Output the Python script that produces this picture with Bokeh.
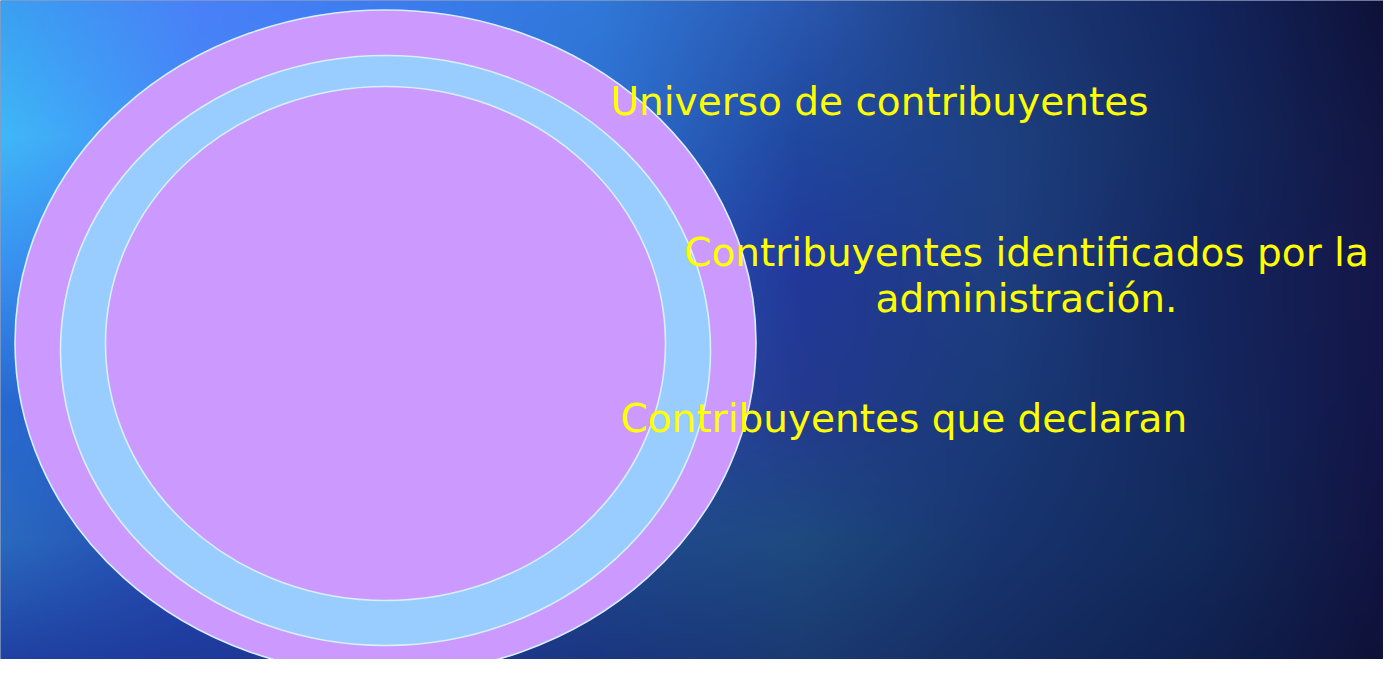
import numpy as np
from bokeh.plotting import figure
from bokeh.models import Range1d
from bokeh.core.properties import value
from bokeh.embed import file_html
from bokeh.resources import INLINE

# ---- content (reference pixel coordinates, y measured downward) ----
ring_names = ["Universo", "Identificados", "Declaran"]
ring_cx = [385, 385, 385]
ring_cy = [342, 350, 343]
ring_w = [741, 650, 560]
ring_h = [665, 590, 514]
ring_colors = ["#cc99ff", "#99ccff", "#cc99ff"]

labels = ["Universo de contribuyentes",
          "Contribuyentes identificados por la",
          "administración.",
          "Contribuyentes que declaran"]
label_x = [610, 1026, 1026, 620]
label_y = [101, 252, 298, 418]
label_align = ["left", "center", "center", "left"]

# background colour anchors
bg_x = [0, 200, 400, 600, 800, 1000, 1200, 1399]
bg_y = [0, 135, 270, 405, 540, 675]
bg_colors = [
    ["#3aa0f0", "#4a80f8", "#3c7cf0", "#3078d8", "#2a58b0", "#1c3a78", "#142660", "#0e1035"],
    ["#40b8f8", "#4488f8", "#3a80e8", "#2e70d0", "#2048a0", "#1e4080", "#142a60", "#121440"],
    ["#3890f0", "#3878e8", "#3070d8", "#2a60c0", "#22389a", "#1e3e80", "#142660", "#151545"],
    ["#2868d0", "#2a5cc8", "#2a58c0", "#2a50b0", "#243a90", "#1a3a78", "#152860", "#121445"],
    ["#2a6ac0", "#2448b0", "#2440a8", "#204a90", "#1e4a80", "#183470", "#122a5a", "#121240"],
    ["#1e3ca0", "#1e3898", "#1e3890", "#1a3480", "#1a3870", "#152c60", "#102050", "#0e1035"],
]

W, H = 1399, 675
def Y(v):
    return H - v

# ---- build background image ----
def hex2rgb(h):
    h = h.lstrip("#")
    return [int(h[i:i + 2], 16) for i in (0, 2, 4)]

anchor = np.array([[hex2rgb(c) for c in row] for row in bg_colors], dtype=float)
nx, ny = 466, 225
xs = np.linspace(0, W, nx)
ys = np.linspace(0, H, ny)  # ref y downward
tmp = np.zeros((len(bg_y), nx, 3))
for r in range(len(bg_y)):
    for ch in range(3):
        tmp[r, :, ch] = np.interp(xs, bg_x, anchor[r, :, ch])
full = np.zeros((ny, nx, 3))
for j in range(nx):
    for ch in range(3):
        full[:, j, ch] = np.interp(ys, bg_y, tmp[:, j, ch])
full = full[::-1]  # row 0 = bottom
img = np.empty((ny, nx), dtype=np.uint32)
view = img.view(dtype=np.uint8).reshape((ny, nx, 4))
view[:, :, 0] = full[:, :, 0].astype(np.uint8)
view[:, :, 1] = full[:, :, 1].astype(np.uint8)
view[:, :, 2] = full[:, :, 2].astype(np.uint8)
view[:, :, 3] = 255

# ---- figure ----
PW, PH = 1383, 659
p = figure(width=PW, height=PH, output_backend="svg", toolbar_location=None,
           x_range=Range1d(0, PW), y_range=Range1d(Y(PH), Y(0)),
           min_border=0)
p.axis.visible = False
p.grid.visible = False
p.outline_line_color = None
p.background_fill_color = "#1a3a80"
p.border_fill_color = "#1a3a80"

p.image_rgba(image=[img], x=0, y=0, dw=W, dh=H)

p.ellipse(x=ring_cx, y=[Y(v) for v in ring_cy], width=ring_w, height=ring_h,
          fill_color=ring_colors, line_color="#d6f0ff", line_width=1.6)

for t, x, y, a in zip(labels, label_x, label_y, label_align):
    p.text(x=[x], y=[Y(y)], text=[t], text_color="#ffff00",
           text_font=value("DejaVu Sans"), text_font_size="39px",
           text_align=a, text_baseline="alphabetic")

open("out.html", "w").write(file_html(p, INLINE))
